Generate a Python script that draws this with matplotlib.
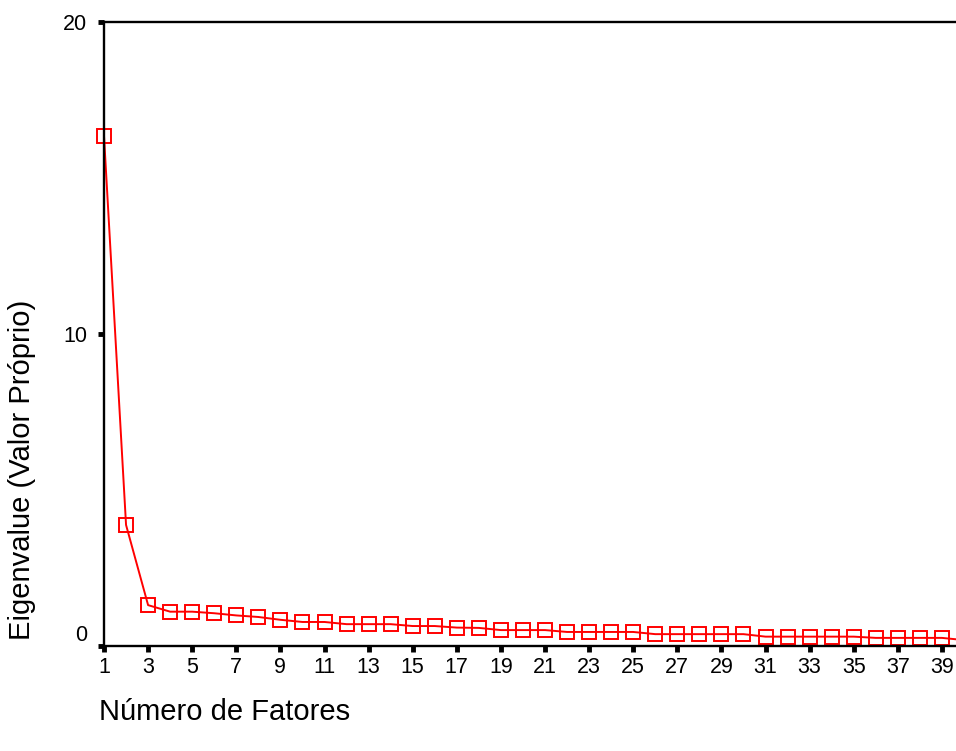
import matplotlib.pyplot as plt
import matplotlib.transforms as mtransforms
import numpy as np

plt.rcParams['font.family'] = ['Liberation Sans', 'DejaVu Sans']

# eigenvalues per factor
fatores = np.arange(1, 41)
eigenvalues = [16.35, 3.88, 1.31, 1.10, 1.10, 1.05, 0.98, 0.93, 0.84, 0.77,
               0.77, 0.70, 0.70, 0.70, 0.64, 0.64, 0.59, 0.58, 0.51, 0.51,
               0.51, 0.45, 0.45, 0.45, 0.45, 0.38, 0.38, 0.38, 0.38, 0.38,
               0.30, 0.30, 0.30, 0.30, 0.30, 0.26, 0.26, 0.26, 0.26, 0.19]
xticks = list(range(1, 40, 2))
yticks = [0, 10, 20]

fig = plt.figure(figsize=(9.56, 7.51), dpi=100)
ax = fig.add_axes([104 / 956, 1 - 646 / 751, 1 - 104 / 956, (646 - 22) / 751])

ax.plot(fatores, eigenvalues, color='red', lw=1.4, marker='s', markersize=9.5,
        markerfacecolor='none', markeredgecolor='red', markeredgewidth=1.4,
        clip_on=False)

ax.set_xlim(1, 1 + (956 - 104) / 22.05)
ax.set_ylim(0, 20)
ax.set_xticks(xticks)
ax.set_yticks(yticks)
ax.tick_params(axis='both', direction='out', length=4, width=3.5,
               labelsize=15.5, color='black')
ax.tick_params(axis='x', pad=4)
ax.tick_params(axis='y', pad=8)

for side in ['left', 'top', 'bottom']:
    ax.spines[side].set_linewidth(1.7)
ax.spines['right'].set_visible(False)

# SPSS puts the 0 label a bit above the axis
offset = mtransforms.ScaledTranslation(0, 13 / 100, fig.dpi_scale_trans)
lbl0 = ax.get_yticklabels()[0]
lbl0.set_transform(lbl0.get_transform() + offset)

fig.text(22 / 956, 1 - 470 / 751, 'Eigenvalue (Valor Próprio)', rotation=90,
         ha='center', va='center', fontsize=21)
fig.text(99 / 956, 1 - 712 / 751, 'Número de Fatores', ha='left',
         va='center', fontsize=21)

fig.savefig('out.png', dpi=100)
